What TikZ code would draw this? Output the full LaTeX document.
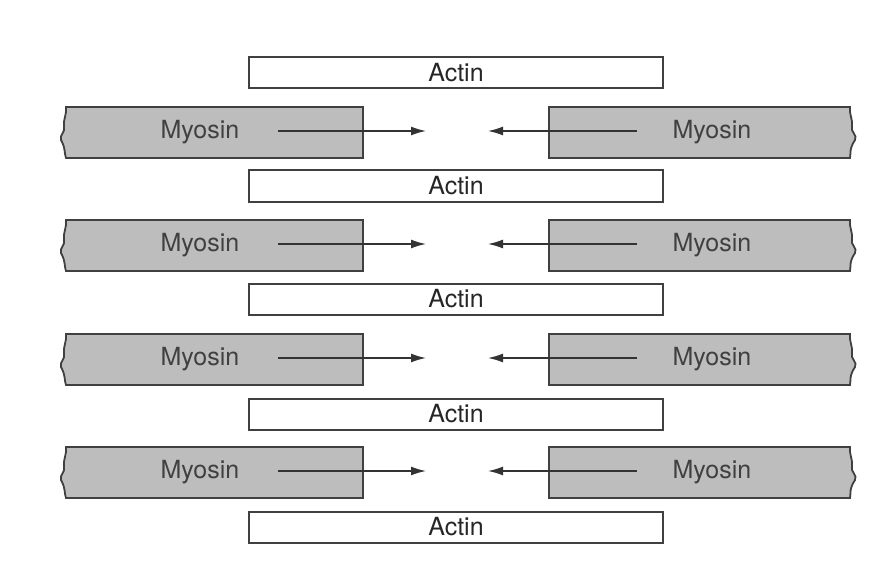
\documentclass[tikz,border=0pt]{standalone}
\usepackage{fontspec}
\setmainfont{TeX Gyre Heros}
\usetikzlibrary{arrows.meta}
\definecolor{myofill}{gray}{0.74}
\definecolor{edge}{gray}{0.25}
\tikzset{
  actinbox/.style={draw=edge, line width=2pt, fill=white, minimum width=414pt, minimum height=31pt, inner sep=0pt, font=\fontsize{25}{27}\selectfont, text=black!85},
  myolabel/.style={font=\fontsize{25}{27}\selectfont, text=black!75, inner sep=0pt},
  myoshape/.style={draw=edge, line width=1.8pt, fill=myofill},
  slide/.style={draw=black!80, line width=1.5pt, -{Latex[length=15pt,width=9pt]}}
}
\begin{document}
\begin{tikzpicture}[x=1pt,y=-1pt]
\useasboundingbox (0,0) rectangle (892,575);
% actin filaments
\foreach \i/\y in {1/73,2/186,3/299,4/414,5/527}{
  \node[actinbox] (actin\i) at (456,\y) {Actin};
}
% myosin filaments
\foreach \i/\y in {1/132,2/245,3/359,4/472}{
  \pgfmathsetmacro{\t}{\y-25}
  \pgfmathsetmacro{\b}{\y+26}
  \draw[myoshape] (66,\t) -- (363,\t) -- (363,\b) -- (66,\b)
     .. controls (64,\b-5) and (66,\b-9) .. (61,\y+8)
     .. controls (59,\y+3) and (66,\y) .. (64,\y-6)
     .. controls (63,\y-12) and (67,\y-18) .. (66,\t) -- cycle;
  \draw[myoshape] (850,\t) -- (549,\t) -- (549,\b) -- (850,\b)
     .. controls (851,\b-5) and (849,\b-9) .. (855,\y+8)
     .. controls (858,\y+3) and (850,\y) .. (852,\y-6)
     .. controls (853,\y-12) and (849,\y-18) .. (850,\t) -- cycle;
  \node[myolabel] (ml\i) at (200,\y) {Myosin};
  \node[myolabel] (mr\i) at (712,\y) {Myosin};
  \coordinate (ls\i) at (278,\y-1);
  \coordinate (le\i) at (426,\y-1);
  \coordinate (rs\i) at (637,\y-1);
  \coordinate (re\i) at (488,\y-1);
  \draw[slide] (ls\i) -- (le\i);
  \draw[slide] (rs\i) -- (re\i);
}
\end{tikzpicture}
\end{document}
